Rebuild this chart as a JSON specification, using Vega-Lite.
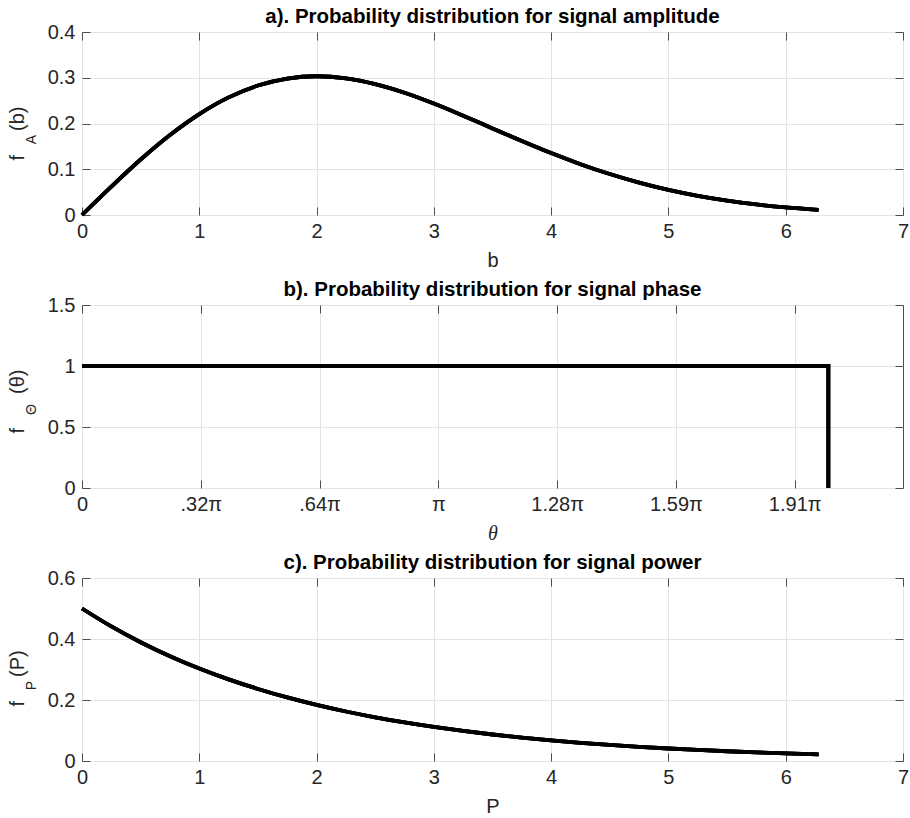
{
  "$schema": "https://vega.github.io/schema/vega-lite/v6.json",
  "background": "white",
  "padding": {"left": 6, "top": 6, "right": 2, "bottom": 2},
  "spacing": 8,
  "datasets": {
    "amp": [
      {"b": 0, "f": 0}, {"b": 0.25, "f": 0.062}, {"b": 0.5, "f": 0.1212}, {"b": 0.75, "f": 0.1748},
      {"b": 1.0, "f": 0.2206}, {"b": 1.25, "f": 0.2571}, {"b": 1.5, "f": 0.283}, {"b": 1.75, "f": 0.2983},
      {"b": 2.0, "f": 0.3033}, {"b": 2.25, "f": 0.2987}, {"b": 2.5, "f": 0.2861}, {"b": 2.75, "f": 0.2672},
      {"b": 3.0, "f": 0.2435}, {"b": 3.25, "f": 0.217}, {"b": 3.5, "f": 0.1893}, {"b": 3.75, "f": 0.1617},
      {"b": 4.0, "f": 0.1353}, {"b": 4.25, "f": 0.1111}, {"b": 4.5, "f": 0.0895}, {"b": 4.75, "f": 0.0708},
      {"b": 5.0, "f": 0.0549}, {"b": 5.25, "f": 0.0419}, {"b": 5.5, "f": 0.0314}, {"b": 5.75, "f": 0.0231},
      {"b": 6.0, "f": 0.0167}, {"b": 6.28, "f": 0.0113}
    ],
    "phase": [
      {"t": 0, "f": 1, "o": 0}, {"t": 6.283, "f": 1, "o": 1}, {"t": 6.283, "f": 0, "o": 2}
    ],
    "power": [
      {"p": 0, "f": 0.5}, {"p": 0.25, "f": 0.4412}, {"p": 0.5, "f": 0.3894}, {"p": 0.75, "f": 0.3436},
      {"p": 1.0, "f": 0.3033}, {"p": 1.25, "f": 0.2676}, {"p": 1.5, "f": 0.2362}, {"p": 1.75, "f": 0.2084},
      {"p": 2.0, "f": 0.1839}, {"p": 2.25, "f": 0.1623}, {"p": 2.5, "f": 0.1433}, {"p": 2.75, "f": 0.1264},
      {"p": 3.0, "f": 0.1116}, {"p": 3.25, "f": 0.0985}, {"p": 3.5, "f": 0.0869}, {"p": 3.75, "f": 0.0767},
      {"p": 4.0, "f": 0.0677}, {"p": 4.25, "f": 0.0597}, {"p": 4.5, "f": 0.0527}, {"p": 4.75, "f": 0.0465},
      {"p": 5.0, "f": 0.041}, {"p": 5.25, "f": 0.0362}, {"p": 5.5, "f": 0.032}, {"p": 5.75, "f": 0.0282},
      {"p": 6.0, "f": 0.0249}, {"p": 6.28, "f": 0.0216}
    ]
  },
  "vconcat": [
    {
      "title": {"text": "a). Probability distribution for signal amplitude"},
      "width": 821, "height": 183,
      "data": {"name": "amp"},
      "layer": [
        {
          "mark": {"type": "line", "color": "black", "strokeWidth": 3.8, "interpolate": "monotone"},
          "encoding": {
            "x": {"field": "b", "type": "quantitative", "scale": {"domain": [0, 7], "nice": false},
                  "axis": {"values": [0, 1, 2, 3, 4, 5, 6, 7], "title": "b", "format": "d"}},
            "y": {"field": "f", "type": "quantitative", "scale": {"domain": [0, 0.4], "nice": false},
                  "axis": {"values": [0, 0.1, 0.2, 0.3, 0.4], "format": "~g", "title": "f\u2003\u2009(b)",
                           "titleAlign": "left", "titleBaseline": "alphabetic", "titleX": -59, "titleY": 128}}
          }
        },
        {
          "mark": {"type": "line", "color": "black", "strokeWidth": 3.8, "interpolate": "monotone"},
          "encoding": {
            "x": {"field": "b", "type": "quantitative", "scale": {"domain": [0, 7], "nice": false},
                  "axis": {"orient": "top", "values": [0, 1, 2, 3, 4, 5, 6, 7], "labels": false, "grid": false, "title": null}},
            "y": {"field": "f", "type": "quantitative", "scale": {"domain": [0, 0.4], "nice": false},
                  "axis": {"orient": "left", "labels": false, "ticks": false, "grid": false, "title": "A",
                           "titleFontSize": 14, "titleAlign": "center", "titleBaseline": "alphabetic", "titleX": -47, "titleY": 107}}
          }
        },
        {
          "mark": {"type": "line", "color": "black", "strokeWidth": 3.8, "interpolate": "monotone"},
          "encoding": {
            "x": {"field": "b", "type": "quantitative", "scale": {"domain": [0, 7], "nice": false}, "axis": null},
            "y": {"field": "f", "type": "quantitative", "scale": {"domain": [0, 0.4], "nice": false},
                  "axis": {"orient": "right", "values": [0, 0.1, 0.2, 0.3, 0.4], "labels": false, "grid": false, "title": null}}
          }
        }
      ],
      "resolve": {"scale": {"x": "independent", "y": "independent"}}
    },
    {
      "title": {"text": "b). Probability distribution for signal phase"},
      "width": 821, "height": 183,
      "data": {"name": "phase"},
      "layer": [
        {
          "mark": {"type": "line", "color": "black", "strokeWidth": 3.8},
          "encoding": {
            "x": {"field": "t", "type": "quantitative", "scale": {"domain": [0, 6.9115], "nice": false},
                  "axis": {"values": [0, 1, 2, 3, 4, 5, 6], "title": "θ", "titleFont": "Liberation Serif", "titleFontStyle": "italic",
                           "labelExpr": "['0', '.32π', '.64π', 'π', '1.28π', '1.59π', '1.91π'][datum.value]"}},
            "y": {"field": "f", "type": "quantitative", "scale": {"domain": [0, 1.5], "nice": false},
                  "axis": {"values": [0, 0.5, 1, 1.5], "format": "~g", "title": "f\u2003\u2002\u2009(θ)",
                           "titleAlign": "left", "titleBaseline": "alphabetic", "titleX": -59, "titleY": 128}},
            "order": {"field": "o"}
          }
        },
        {
          "mark": {"type": "line", "color": "black", "strokeWidth": 3.8},
          "encoding": {
            "x": {"field": "t", "type": "quantitative", "scale": {"domain": [0, 6.9115], "nice": false},
                  "axis": {"orient": "top", "values": [0, 1, 2, 3, 4, 5, 6], "labels": false, "grid": false, "title": null}},
            "y": {"field": "f", "type": "quantitative", "scale": {"domain": [0, 1.5], "nice": false},
                  "axis": {"orient": "left", "labels": false, "ticks": false, "grid": false, "title": "Θ",
                           "titleFontSize": 14, "titleAlign": "center", "titleBaseline": "alphabetic", "titleX": -47, "titleY": 104}},
            "order": {"field": "o"}
          }
        },
        {
          "mark": {"type": "line", "color": "black", "strokeWidth": 3.8},
          "encoding": {
            "x": {"field": "t", "type": "quantitative", "scale": {"domain": [0, 6.9115], "nice": false}, "axis": null},
            "y": {"field": "f", "type": "quantitative", "scale": {"domain": [0, 1.5], "nice": false},
                  "axis": {"orient": "right", "values": [0, 0.5, 1, 1.5], "labels": false, "grid": false, "title": null}},
            "order": {"field": "o"}
          }
        }
      ],
      "resolve": {"scale": {"x": "independent", "y": "independent"}}
    },
    {
      "title": {"text": "c). Probability distribution for signal power"},
      "width": 821, "height": 183,
      "data": {"name": "power"},
      "layer": [
        {
          "mark": {"type": "line", "color": "black", "strokeWidth": 3.8, "interpolate": "monotone"},
          "encoding": {
            "x": {"field": "p", "type": "quantitative", "scale": {"domain": [0, 7], "nice": false},
                  "axis": {"values": [0, 1, 2, 3, 4, 5, 6, 7], "title": "P", "format": "d"}},
            "y": {"field": "f", "type": "quantitative", "scale": {"domain": [0, 0.6], "nice": false},
                  "axis": {"values": [0, 0.2, 0.4, 0.6], "format": "~g", "title": "f\u2003\u2009(P)",
                           "titleAlign": "left", "titleBaseline": "alphabetic", "titleX": -59, "titleY": 128}}
          }
        },
        {
          "mark": {"type": "line", "color": "black", "strokeWidth": 3.8, "interpolate": "monotone"},
          "encoding": {
            "x": {"field": "p", "type": "quantitative", "scale": {"domain": [0, 7], "nice": false},
                  "axis": {"orient": "top", "values": [0, 1, 2, 3, 4, 5, 6, 7], "labels": false, "grid": false, "title": null}},
            "y": {"field": "f", "type": "quantitative", "scale": {"domain": [0, 0.6], "nice": false},
                  "axis": {"orient": "left", "labels": false, "ticks": false, "grid": false, "title": "P",
                           "titleFontSize": 14, "titleAlign": "center", "titleBaseline": "alphabetic", "titleX": -47, "titleY": 107}}
          }
        },
        {
          "mark": {"type": "line", "color": "black", "strokeWidth": 3.8, "interpolate": "monotone"},
          "encoding": {
            "x": {"field": "p", "type": "quantitative", "scale": {"domain": [0, 7], "nice": false}, "axis": null},
            "y": {"field": "f", "type": "quantitative", "scale": {"domain": [0, 0.6], "nice": false},
                  "axis": {"orient": "right", "values": [0, 0.2, 0.4, 0.6], "labels": false, "grid": false, "title": null}}
          }
        }
      ],
      "resolve": {"scale": {"x": "independent", "y": "independent"}}
    }
  ],
  "config": {
    "view": {"stroke": "#4d4d4d", "strokeWidth": 1},
    "axis": {
      "domain": false,
      "tickSize": -8, "tickColor": "#4d4d4d", "tickWidth": 1,
      "grid": true, "gridColor": "#e3e3e3", "gridWidth": 1,
      "labelFont": "Liberation Sans", "labelFontSize": 20, "labelColor": "#262626",
      "titleFont": "Liberation Sans", "titleFontSize": 20, "titleFontWeight": "normal", "titleColor": "#262626"
    },
    "axisX": {"labelPadding": 14, "titlePadding": 9, "labelFlush": false},
    "axisY": {"labelPadding": 15},
    "title": {"font": "Liberation Sans", "fontSize": 20.5, "fontWeight": "bold", "color": "black", "anchor": "middle", "frame": "group", "offset": -5}
  }
}
